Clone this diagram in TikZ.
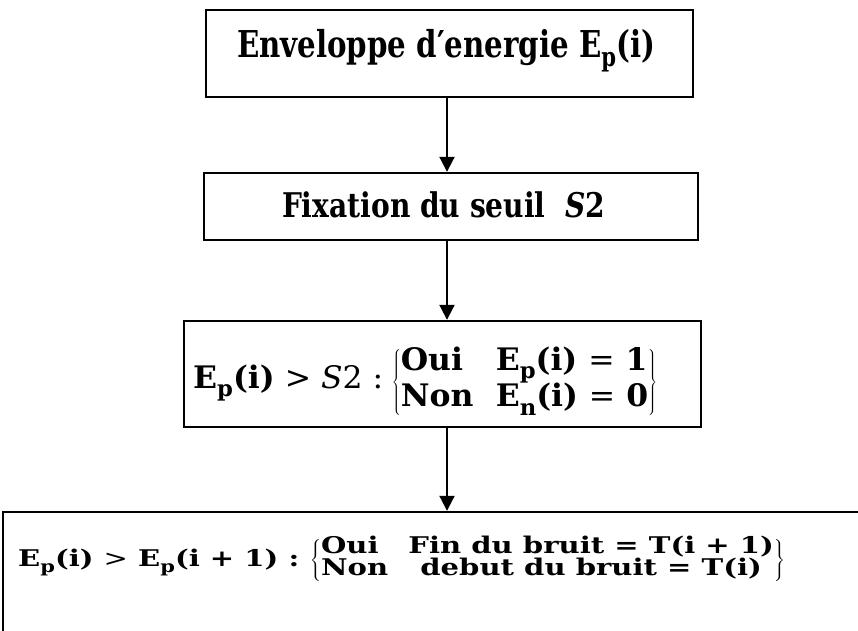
\documentclass[tikz,border=0pt]{standalone}
\usepackage{fontspec}
\setmainfont{DejaVu Serif}
\usepackage{graphicx}
\usetikzlibrary{arrows.meta}

% lowered subscript letter in text
\newcommand\lowsub[1]{\raisebox{-0.26em}{\scalebox{0.72}{#1}}}
\newcommand\Ep{E\lowsub{p}}

% set #2 and scale it horizontally to the width #1
\newsavebox\fitbox
\newcommand\fitwidth[2]{\sbox\fitbox{#2}%
  \pgfmathsetmacro\fitf{#1/\the\wd\fitbox}%
  \scalebox{\fitf}[1]{\usebox\fitbox}}

\tikzset{
  box/.style={draw, line width=2.4pt, inner sep=0pt},
  arr/.style={line width=2pt, -{Triangle[width=15pt,length=15pt]}},
  lbl/.style={inner sep=0pt}
}

\begin{document}
\begin{tikzpicture}[x=1pt, y=-1pt]
  \useasboundingbox (0,0) rectangle (858,630);
  \clip (0,0) rectangle (858,630);

  % boxes
  \node[box, minimum width=487pt, minimum height=87pt]  (b1) at (449.5,53.5) {};
  \node[box, minimum width=494pt, minimum height=67pt]  (b2) at (451,206.5) {};
  \node[box, minimum width=517pt, minimum height=106pt] (b3) at (442.5,374) {};
  \node[box, minimum width=877pt, minimum height=148pt] (b4) at (441.5,586) {};

  % box texts
  \node[lbl, anchor=base, font=\fontsize{37}{40}\selectfont\bfseries] (t1) at (446,57)
    {\fitwidth{418pt}{Enveloppe d′energie \Ep(i)}};
  \node[lbl, anchor=base, font=\fontsize{34}{38}\selectfont\bfseries] (t2) at (443.5,217)
    {\fitwidth{323pt}{Fixation du seuil\ \ \textit{S}2}};
  \node[lbl, anchor=west, font=\fontsize{31}{33}\selectfont] (t3) at (193,382)
    {\fitwidth{464pt}{$\mbox{\bfseries\Ep(i)}\mbox{ > \textit{S}2 :}\,
      \left\{\begin{array}{@{}l@{\hspace{22pt}}l@{}}
        \mbox{\bfseries Oui} & \mbox{\bfseries\Ep(i) \mdseries=\bfseries{} 1}\\
        \mbox{\bfseries Non} & \mbox{\bfseries E\lowsub{n}(i) \mdseries=\bfseries{} 0}
      \end{array}\right\}$}};
  \node[lbl, anchor=west, font=\fontsize{23}{22.5}\selectfont] (t4) at (18,560)
    {\fitwidth{767pt}{$\mbox{\bfseries\Ep(i) \mdseries>\bfseries{} \Ep(i + 1) :}\,
      \left\{\begin{array}{@{}l@{\hspace{16pt}}c@{}}
        \smash{\mbox{\bfseries Oui}} & \smash{\mbox{\bfseries Fin du bruit = T(i + 1)}}\\
        \smash{\mbox{\bfseries Non}} & \smash{\mbox{\bfseries debut du bruit = T(i)}}
      \end{array}\right\}$}};

  % connectors
  \coordinate (ax) at (447,0);
  \draw[arr] (b1.south -| ax) -- (b2.north -| ax);
  \draw[arr] (b2.south -| ax) -- (b3.north -| ax);
  \draw[arr] (b3.south -| ax) -- (b4.north -| ax);
\end{tikzpicture}
\end{document}
